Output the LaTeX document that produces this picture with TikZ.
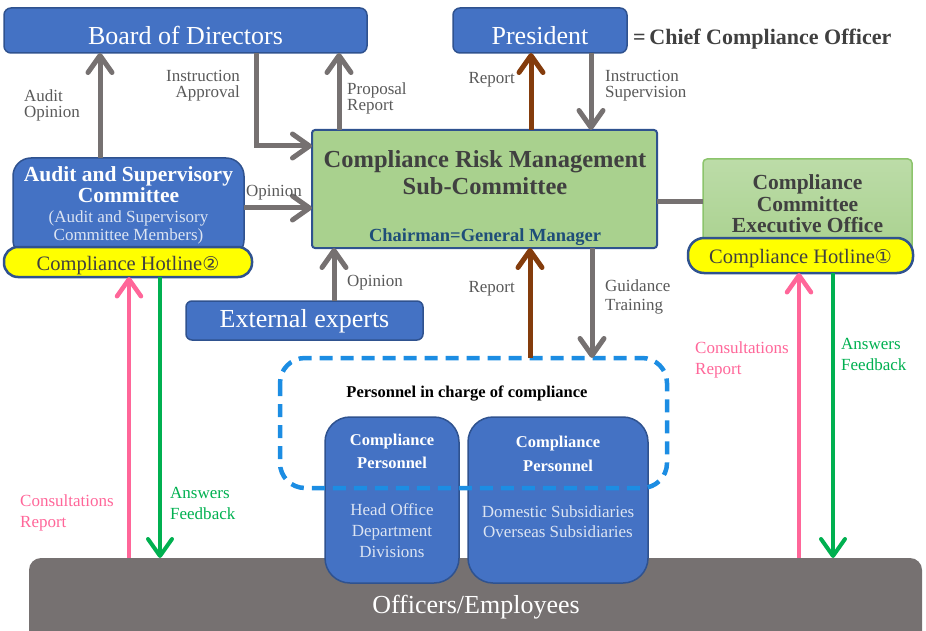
\documentclass[tikz,border=0pt]{standalone}
\usepackage{fontspec}
\setmainfont{Liberation Serif}
\newfontfamily\symfont{DejaVu Sans}
\usetikzlibrary{arrows.meta}
\definecolor{boxblue}{HTML}{4472C4}
\definecolor{boxedge}{HTML}{2F528F}
\definecolor{arrgray}{HTML}{767171}
\definecolor{brownarr}{HTML}{843C0C}
\definecolor{pinkarr}{HTML}{FF6699}
\definecolor{greenarr}{HTML}{00B050}
\definecolor{crmgreen}{HTML}{A9D18E}
\definecolor{exectop}{HTML}{BCDCA8}
\definecolor{execedge}{HTML}{8CC46C}
\definecolor{txtgray}{HTML}{404040}
\definecolor{lblgray}{HTML}{595959}
\definecolor{navy}{HTML}{1F4E79}
\definecolor{dashblue}{HTML}{1C8DE3}
\definecolor{lightw}{HTML}{DCE4F2}
\definecolor{hotyellow}{HTML}{FFFF00}
\newcommand{\fs}[1]{\fontsize{#1}{#1}\selectfont}
\tikzset{
  box/.style={anchor=north west, inner sep=0pt, outer sep=0pt},
  bluebox/.style={box, fill=boxblue, draw=boxedge, line width=1.5pt, rounded corners=7pt},
  hotline/.style={box, fill=hotyellow, draw=boxedge, line width=2.5pt, rounded corners=16pt},
  txt/.style={anchor=base, inner sep=0pt},
  big/.style={txt, text=white, font=\fs{26}},
  hot/.style={txt, text=txtgray, font=\fs{20.5}},
  tip/.style={-{Straight Barb[length=17pt, width=24pt, round]}},
  garr/.style={tip, draw=arrgray, line width=5pt},
  barr/.style={tip, draw=brownarr, line width=5pt},
  parr/.style={tip, draw=pinkarr, line width=4.5pt},
  grarr/.style={tip, draw=greenarr, line width=4pt},
  lbl/.style={inner sep=0pt, text=lblgray, font=\fs{17}},
  lw/.style={lbl, anchor=base west},
  le/.style={lbl, anchor=base east},
}
\begin{document}
\begin{tikzpicture}[x=1pt,y=-1pt]
\useasboundingbox (0,0) rectangle (926,631);
\clip (0,0) rectangle (926,631);
% bottom bar
\node[box, fill=arrgray, rounded corners=12pt, minimum width=893pt, minimum height=90pt] (staff) at (29,558) {};
\node[big] (stafft) at (476,613) {Officers/Employees};
% top
\node[bluebox, minimum width=363pt, minimum height=45pt] (board) at (4,8) {};
\node[big] (boardt) at (185.5,45) {Board of Directors};
\node[bluebox, minimum width=174pt, minimum height=45pt] (pres) at (453,8) {};
\node[big] (prest) at (540,45) {President};
\node[anchor=base west, inner sep=0pt, text=txtgray, font=\bfseries\fs{22}] (cco) at (633,45) {=\,Chief Compliance Officer};
% CRM
\node[box, fill=crmgreen, draw=boxedge, line width=2pt, rounded corners=3pt, minimum width=345pt, minimum height=118pt] (crm) at (312,130) {};
\node[txt, text=txtgray, font=\bfseries\fs{24.5}] (crm1) at (485,168) {Compliance Risk Management};
\node[txt, text=txtgray, font=\bfseries\fs{24.5}] (crm2) at (485,195) {Sub-Committee};
\node[txt, text=navy, font=\bfseries\fs{18.5}] (chair) at (485,241.5) {Chairman=General Manager};
% Exec office
\node[box, top color=exectop, bottom color=crmgreen, draw=execedge, line width=1.5pt, rounded corners=4pt, minimum width=209pt, minimum height=95pt] (exec) at (703,159) {};
\node[txt, text=txtgray, font=\bfseries\fs{21.5}] (ex1) at (807.5,190) {Compliance};
\node[txt, text=txtgray, font=\bfseries\fs{21.5}] (ex2) at (807.5,211.5) {Committee};
\node[txt, text=txtgray, font=\bfseries\fs{21.5}] (ex3) at (807.5,233) {Executive Office};
\node[hotline, minimum width=225pt, minimum height=35pt] (hot1) at (688,238) {};
\node[hot] (hot1t) at (800.5,263) {Compliance Hotline{\symfont\fs{19}①}};
% Audit
\node[box, fill=boxblue, draw=boxedge, line width=1.5pt, rounded corners=18pt, minimum width=231pt, minimum height=100pt] (audit) at (13,158) {};
\node[txt, text=white, font=\bfseries\fs{21.5}] (au1) at (128.5,181.5) {Audit and Supervisory};
\node[txt, text=white, font=\bfseries\fs{21.5}] (au2) at (128.5,203) {Committee};
\node[txt, text=lightw, font=\fs{17}] (au3) at (128.5,222.5) {(Audit and Supervisory};
\node[txt, text=lightw, font=\fs{17}] (au4) at (128.5,240.5) {Committee Members)};
\node[hotline, minimum width=248pt, minimum height=30pt, rounded corners=14pt] (hot2) at (4,247) {};
\node[hot] (hot2t) at (128,270.5) {Compliance Hotline{\symfont\fs{19}②}};
% External
\node[bluebox, minimum width=237pt, minimum height=39pt, rounded corners=6pt] (ext) at (186,301) {};
\node[big] (extt) at (304.5,327) {External experts};
% Compliance personnel
\node[bluebox, rounded corners=25pt, minimum width=134pt, minimum height=166pt] (cp1) at (325,417) {};
\node[bluebox, rounded corners=25pt, minimum width=180pt, minimum height=166pt] (cp2) at (468,417) {};
\node[txt, text=white, font=\bfseries\fs{16.5}] (cp1a) at (392,445) {Compliance};
\node[txt, text=white, font=\bfseries\fs{16.5}] (cp1b) at (392,468.5) {Personnel};
\node[txt, text=white, font=\bfseries\fs{16.5}] (cp2a) at (558,447) {Compliance};
\node[txt, text=white, font=\bfseries\fs{16.5}] (cp2b) at (558,471) {Personnel};
\node[txt, text=lightw, font=\fs{17}] (cp1c) at (392,515) {Head Office};
\node[txt, text=lightw, font=\fs{17}] (cp1d) at (392,536) {Department};
\node[txt, text=lightw, font=\fs{17}] (cp1e) at (392,557.5) {Divisions};
\node[txt, text=lightw, font=\fs{17}] (cp2c) at (558,517) {Domestic Subsidiaries};
\node[txt, text=lightw, font=\fs{17}] (cp2d) at (558,537.5) {Overseas Subsidiaries};
\draw[draw=dashblue, line width=4.5pt, dash pattern=on 13pt off 8pt, rounded corners=25pt] (280,358) rectangle (667,488);
\coordinate (dtopL) at (530,358);
\coordinate (dtopR) at (592,358);
\node[txt, text=black, font=\bfseries\fs{16.5}] (pic) at (467,397) {Personnel in charge of compliance};
% arrows
\draw[garr] (audit.north -| 100,0) -- (board.south -| 100,0);
\node[lw] (l1a) at (24,101.5) {Audit};
\node[lw] (l1b) at (24,117.5) {Opinion};
\draw[garr] (board.south -| 256,0) |- (crm.west |- 0,146);
\node[le] (l2a) at (240,81.5) {Instruction};
\node[le] (l2b) at (240,97.5) {Approval};
\draw[garr] (crm.north -| 339,0) -- (board.south -| 339,0);
\node[lw] (l3a) at (347,95) {Proposal};
\node[lw] (l3b) at (347,111) {Report};
\draw[barr] (crm.north -| 531,0) -- (pres.south -| 531,0);
\node[le] (l4) at (515,83.5) {Report};
\draw[garr] (pres.south -| 591,0) -- (crm.north -| 591,0);
\node[lw] (l5a) at (605,81.5) {Instruction};
\node[lw] (l5b) at (605,97.5) {Supervision};
\draw[garr] (audit.east |- 0,208) -- (crm.west |- 0,208);
\node[lw] (l6) at (246,196.5) {Opinion};
\draw[garr] (ext.north -| 334,0) -- (crm.south -| 334,0);
\node[lw] (l7) at (347,286.5) {Opinion};
\draw[draw=arrgray, line width=5pt] (crm.east |- 0,202) -- (exec.west |- 0,202);
\draw[barr] (dtopL) -- (crm.south -| dtopL);
\node[le] (l8) at (515,292.5) {Report};
\draw[garr] (crm.south -| dtopR) -- (dtopR);
\node[lw] (l9a) at (605,291.5) {Guidance};
\node[lw] (l9b) at (605,310) {Training};
\draw[parr] (staff.north -| 129,0) -- (hot2.south -| 129,0);
\node[lw, text=pinkarr] (l10a) at (20,506) {Consultations};
\node[lw, text=pinkarr] (l10b) at (20,527) {Report};
\draw[grarr] (hot2.south -| 160,0) -- (staff.north -| 160,0);
\node[lw, text=greenarr] (l11a) at (170,498.5) {Answers};
\node[lw, text=greenarr] (l11b) at (170,519.5) {Feedback};
\draw[parr] (staff.north -| 799,0) -- (hot1.south -| 799,0);
\node[lw, text=pinkarr] (l12a) at (695,353.5) {Consultations};
\node[lw, text=pinkarr] (l12b) at (695,374.5) {Report};
\draw[grarr] (hot1.south -| 833,0) -- (staff.north -| 833,0);
\node[lw, text=greenarr] (l13a) at (841,349.5) {Answers};
\node[lw, text=greenarr] (l13b) at (841,370.5) {Feedback};
\end{tikzpicture}
\end{document}
